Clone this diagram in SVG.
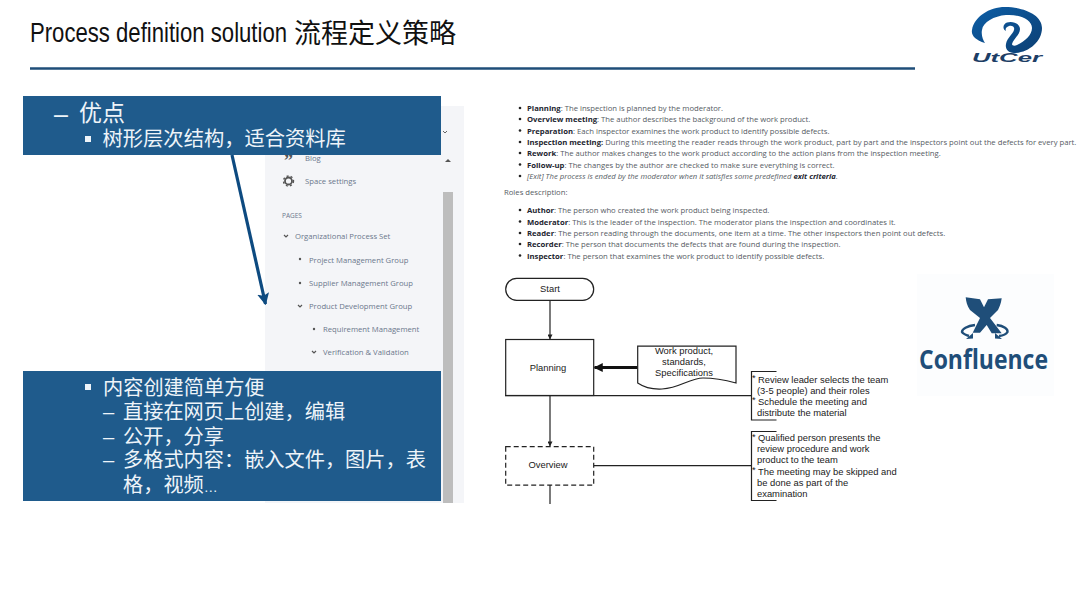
<svg xmlns="http://www.w3.org/2000/svg" width="1080" height="608" viewBox="0 0 1080 608">
<style>
.cn{font-family:"Liberation Sans","Noto Sans CJK SC",sans-serif;fill:#eef4f9}
.s{font-family:"Open Sans","Noto Sans",sans-serif;font-size:7.7px;fill:#6b778c}
.d{font-family:"Open Sans","Noto Sans",sans-serif;font-size:7.7px;fill:#555b63}
.db{font-weight:700;fill:#1d2530}
.f{font-family:"Liberation Sans",Arial,sans-serif;font-size:9.4px;fill:#1a1a1a}
.l{fill:none;stroke:#222;stroke-width:1.2}
</style>
<defs>
<marker id="a1" viewBox="0 0 10 10" refX="9" refY="5" markerWidth="12" markerHeight="12" markerUnits="userSpaceOnUse" orient="auto"><path d="M0,0L10,5L0,10L2,5Z" fill="#0d4a80"/></marker>
<marker id="a2" viewBox="0 0 6 6" refX="5.5" refY="3" markerWidth="5" markerHeight="5" markerUnits="userSpaceOnUse" orient="auto"><path d="M0,0L6,3L0,6Z" fill="#222"/></marker>
<marker id="a3" viewBox="0 0 6 6" refX="5.5" refY="3" markerWidth="9" markerHeight="9" markerUnits="userSpaceOnUse" orient="auto"><path d="M0,0L6,3L0,6Z" fill="#111"/></marker>
<linearGradient id="lg" x1="0" y1="0" x2="1" y2="1"><stop offset="0" stop-color="#0d5ea6"/><stop offset="1" stop-color="#0c3f73"/></linearGradient>
<clipPath id="dc"><rect x="500" y="105.500" width="580" height="160"/></clipPath>
</defs>
<rect width="1080" height="608" fill="#fff"/>
<g id="title">
<text transform="translate(30,42) scale(.82,1)" fill="#111" font-size="27" font-family="Liberation Sans,Arial,sans-serif">Process definition solution</text>
<text x="294" y="43" fill="#111" font-size="27" font-family="Noto Sans CJK SC,sans-serif">流程定义策略</text>
<line x1="30" y1="68.500" x2="915" y2="68.500" stroke="#1f4e79" stroke-width="2.400"/>
</g>
<g id="utcer-logo">
<path fill="url(#lg)" d="M985,43C975,40 971,35 972,30C974,17 989,7 1005,7C1024,7 1042,15 1042,28C1042,42 1028,53 1014,53C1008,53 1005,49 1006,44C1007,38 1013,34 1014,30C1015,27 1012,25 1009,26C1006,27 1005,29 1006,31C1002,29 1003,24 1007,22.500C1013,20.500 1020,24 1020,29C1020,35 1013,39 1012,44C1012,46 1015,46 1017,45C1025,41 1032,35 1032,28C1032,20 1020,14 1006,15C994,16 983,22 982,30C981,35 983,40 985,43Z"/>
<text x="972" y="62" font-family="Liberation Sans,Arial,sans-serif" font-size="13.500" font-weight="700" font-style="italic" fill="#1d3e66" textLength="70" lengthAdjust="spacingAndGlyphs">UtCer</text>
</g>
<g id="sidebar">
<rect x="265" y="106" width="199" height="397" fill="#f4f5f8"/>
<rect x="443" y="192" width="10" height="311" fill="#bdbdbd"/>
<path d="M443,131l2,2 2,-2" fill="none" stroke="#666" stroke-width="1"/>
<path d="M445,162l3,-3 3,3z" fill="#555"/>
<text x="305" y="160.500" class="s">Blog</text>
<text x="284" y="167" font-family="Liberation Serif,serif" font-weight="700" font-size="18" fill="#555">”</text>
<circle cx="288.500" cy="181" r="3.500" fill="none" stroke="#555" stroke-width="1.800"/>
<circle cx="288.500" cy="181" r="5" fill="none" stroke="#555" stroke-width="1.400" stroke-dasharray="2 2.200"/>
<text x="305" y="184" class="s">Space settings</text>
<text x="282" y="218" class="s" style="font-size:6.500px">PAGES</text>
<path d="M284,235l2,2 2,-2M298,305l2,2 2,-2M312,351l2,2 2,-2" fill="none" stroke="#555" stroke-width="1.200"/>
<circle cx="300" cy="259" r="1.200" fill="#555"/><circle cx="300" cy="283" r="1.200" fill="#555"/><circle cx="314" cy="329" r="1.200" fill="#555"/>
<text x="295" y="239" class="s">Organizational Process Set</text>
<text x="309" y="262.500" class="s">Project Management Group</text>
<text x="309" y="285.500" class="s">Supplier Management Group</text>
<text x="309" y="308.500" class="s">Product Development Group</text>
<text x="323" y="331.500" class="s">Requirement Management</text>
<text x="323" y="355" class="s">Verification &amp; Validation</text>
</g>
<g id="connectors">
<line x1="232" y1="155" x2="265.500" y2="304" stroke="#0d4a80" stroke-width="3.200" marker-end="url(#a1)"/>
<line x1="550" y1="300" x2="550" y2="339" class="l" marker-end="url(#a2)"/>
<line x1="550" y1="396" x2="550" y2="446" class="l" marker-end="url(#a2)"/>
<line x1="550" y1="485" x2="550" y2="504" class="l"/>
<line x1="637.500" y1="367.500" x2="594.500" y2="367.500" stroke="#111" stroke-width="2.800" marker-end="url(#a3)"/>
<line x1="505" y1="395.700" x2="751" y2="395.700" class="l"/>
<line x1="594" y1="465.700" x2="751" y2="465.700" class="l"/>
</g>
<g id="box-top">
<rect x="23" y="96" width="418" height="59" fill="#1f5b8c"/>
<text x="54" y="123" class="cn" font-size="25">–</text>
<text x="79" y="121" class="cn" font-size="23">优点</text>
<rect x="85" y="136" width="6" height="6" fill="#eef4f9"/>
<text x="102.500" y="146" class="cn" font-size="20.300">树形层次结构，适合资料库</text>
</g>
<g id="box-bottom">
<rect x="23" y="371" width="418" height="130" fill="#1f5b8c"/>
<rect x="85" y="384" width="6" height="6" fill="#eef4f9"/>
<text x="103" y="395" class="cn" font-size="20.200">内容创建简单方便</text>
<text x="103" y="419" class="cn" font-size="20.200">–</text><text x="123" y="419" class="cn" font-size="20.200">直接在网页上创建，编辑</text>
<text x="103" y="444" class="cn" font-size="20.200">–</text><text x="123" y="444" class="cn" font-size="20.200">公开，分享</text>
<text x="103" y="467" class="cn" font-size="20.200">–</text><text x="123" y="467" class="cn" font-size="20.200">多格式内容：嵌入文件，图片，表</text>
<text x="123" y="492" class="cn" font-size="20.200">格，视频<tspan font-size="14">…</tspan></text>
</g>
<g id="description" clip-path="url(#dc)">
<g fill="#222"><circle cx="520" cy="108" r="1.300"/><circle cx="520" cy="119" r="1.300"/><circle cx="520" cy="130.500" r="1.300"/><circle cx="520" cy="142" r="1.300"/><circle cx="520" cy="153" r="1.300"/><circle cx="520" cy="164.500" r="1.300"/><circle cx="520" cy="176" r="1.300"/><circle cx="520" cy="210" r="1.300"/><circle cx="520" cy="221.500" r="1.300"/><circle cx="520" cy="233" r="1.300"/><circle cx="520" cy="244" r="1.300"/><circle cx="520" cy="255.500" r="1.300"/></g>
<text x="527" y="110.500" class="d"><tspan class="db">Planning</tspan>: The inspection is planned by the moderator.</text>
<text x="527" y="122" class="d"><tspan class="db">Overview meeting</tspan>: The author describes the background of the work product.</text>
<text x="527" y="133.500" class="d"><tspan class="db">Preparation</tspan>: Each inspector examines the work product to identify possible defects.</text>
<text x="527" y="145" class="d"><tspan class="db">Inspection meeting:</tspan> During this meeting the reader reads through the work product, part by part and the inspectors point out the defects for every part.</text>
<text x="527" y="156" class="d"><tspan class="db">Rework</tspan>: The author makes changes to the work product according to the action plans from the inspection meeting.</text>
<text x="527" y="167.500" class="d"><tspan class="db">Follow-up</tspan>: The changes by the author are checked to make sure everything is correct.</text>
<text x="527" y="179" class="d" font-style="italic">[Exit] The process is ended by the moderator when it satisfies some predefined <tspan class="db">exit criteria</tspan>.</text>
<text x="504" y="195" class="d">Roles description:</text>
<text x="527" y="213" class="d"><tspan class="db">Author</tspan>: The person who created the work product being inspected.</text>
<text x="527" y="224.500" class="d"><tspan class="db">Moderator</tspan>: This is the leader of the inspection. The moderator plans the inspection and coordinates it.</text>
<text x="527" y="236" class="d"><tspan class="db">Reader</tspan>: The person reading through the documents, one item at a time. The other inspectors then point out defects.</text>
<text x="527" y="247" class="d"><tspan class="db">Recorder</tspan>: The person that documents the defects that are found during the inspection.</text>
<text x="527" y="258.500" class="d"><tspan class="db">Inspector</tspan>: The person that examines the work product to identify possible defects.</text>
</g>
<g id="node-start"><rect x="505.700" y="278.300" width="88" height="22" rx="11" class="l"/><text x="550" y="292" class="f" text-anchor="middle">Start</text></g>
<g id="node-planning"><rect x="505.700" y="339.500" width="88" height="56" class="l"/><text x="548" y="370.500" class="f" text-anchor="middle">Planning</text></g>
<g id="node-overview"><rect x="505.700" y="446.700" width="88" height="38.500" class="l" stroke-dasharray="5 3"/><text x="548" y="468" class="f" text-anchor="middle">Overview</text></g>
<g id="node-docs"><path d="M637.700,346.200H736V383C725,380 715,378 703,378C690,378 680,388 662,389C652,389.500 645,388 637.700,383Z" class="l"/><text x="684" y="354" class="f" text-anchor="middle">Work product,</text><text x="684" y="365" class="f" text-anchor="middle">standards,</text><text x="684" y="376" class="f" text-anchor="middle">Specifications</text></g>
<g id="note-planning"><path d="M776.500,371.500H751.500V420H776.500" class="l"/><text x="752" y="381" class="f">*</text><text x="758" y="382.500" class="f">Review leader selects the team</text><text x="757" y="393.500" class="f">(3-5 people) and their roles</text><text x="752" y="403" class="f">*</text><text x="758" y="404.500" class="f">Schedule the meeting and</text><text x="757" y="415.500" class="f">distribute the material</text></g>
<g id="note-overview"><path d="M776.500,431.500H751.500V500.500H776.500" class="l"/><text x="752" y="440" class="f">*</text><text x="758" y="441" class="f">Qualified person presents the</text><text x="757" y="452" class="f">review procedure and work</text><text x="757" y="463" class="f">product to the team</text><text x="752" y="473" class="f">*</text><text x="758" y="475" class="f">The meeting may be skipped and</text><text x="757" y="486" class="f">be done as part of the</text><text x="757" y="497" class="f">examination</text></g>
<g id="confluence-logo">
<rect x="917" y="274" width="137" height="122" fill="#fcfdfe"/>
<path fill="#1f4e79" d="M965.700,297.300L980,299.300L984,307.300L988,299.300L1001.700,298.300C1001,304 999,308 998,310L990,318L1001.700,333.200L991.700,333.300L986.700,325L980,332.700L972.700,332.700L980,318L970,310C967,306 966,301 965.700,297.300Z"/>
<path fill="none" stroke="#1f4e79" stroke-width="2.400" d="M975,325C967,326 962,329 962,332C963,334 966,335 969,336M996.700,325C1004,326 1008,329 1007.500,332C1006,334.500 1003,335.500 999,336"/>
<path fill="#1f4e79" d="M973,333L966,339L973,338.500ZM995,333L1002,339L995,338.500Z"/>
<text x="919" y="368.500" font-family="Open Sans,Noto Sans,sans-serif" font-weight="700" font-size="26.500" fill="#1f4e79" textLength="129" lengthAdjust="spacingAndGlyphs">Confluence</text>
</g>
</svg>
